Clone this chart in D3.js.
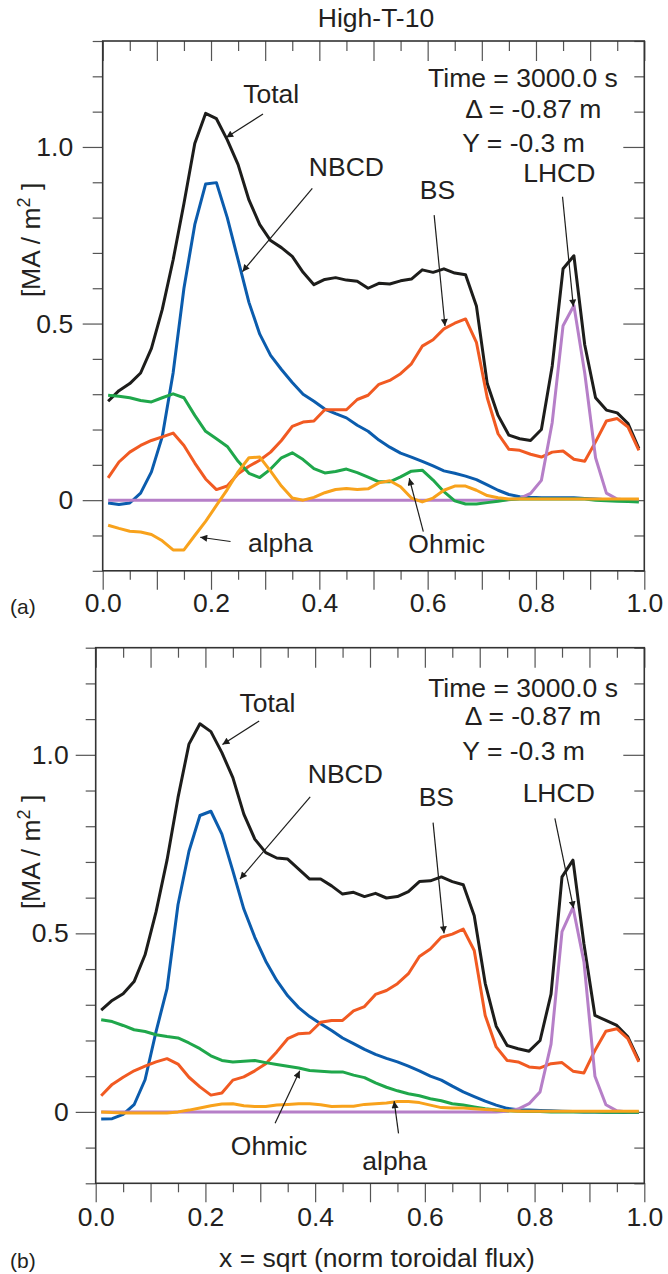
<!DOCTYPE html>
<html>
<head>
<meta charset="utf-8">
<script src="https://cdn.jsdelivr.net/npm/d3@7"></script>
<style>
body { margin: 0; background: #fff; }
svg { display: block; }
text { font-family: "Liberation Sans", Arial, Helvetica, sans-serif; fill: #231f20; }
</style>
</head>
<body>
<div id="chart"></div>
<script>
// sample positions (sqrt of normalised toroidal flux)
var xs = [0.01,0.03,0.05,0.07,0.09,0.11,0.13,0.15,0.17,0.19,
          0.21,0.23,0.25,0.27,0.29,0.31,0.33,0.35,0.37,0.39,
          0.41,0.43,0.45,0.47,0.49,0.51,0.53,0.55,0.57,0.59,
          0.61,0.63,0.65,0.67,0.69,0.71,0.73,0.75,0.77,0.79,
          0.81,0.83,0.85,0.87,0.89,0.91,0.93,0.95,0.97,0.99];

// panel (a) current densities [MA/m2]
var totalA = [0.28,0.31,0.33,0.36,0.43,0.54,0.68,0.84,1.01,1.095,
              1.08,1.02,0.95,0.85,0.78,0.735,0.715,0.69,0.645,0.61,
              0.625,0.63,0.623,0.62,0.60,0.614,0.612,0.621,0.626,0.652,
              0.645,0.655,0.643,0.638,0.55,0.33,0.24,0.184,0.174,0.169,
              0.20,0.38,0.655,0.692,0.44,0.29,0.255,0.247,0.217,0.146];
var nbcdA = [-0.008,-0.012,-0.008,0.02,0.08,0.18,0.36,0.60,0.78,0.895,
             0.899,0.80,0.68,0.56,0.47,0.41,0.37,0.333,0.30,0.28,
             0.258,0.245,0.233,0.212,0.195,0.17,0.15,0.133,0.122,0.11,
             0.097,0.083,0.076,0.068,0.058,0.043,0.028,0.016,0.010,0.008,
             0.007,0.007,0.007,0.007,0.005,0.003,0.001,0,0,0];
var bsA = [0.063,0.108,0.136,0.155,0.169,0.179,0.19,0.155,0.105,0.06,
           0.03,0.04,0.075,0.096,0.113,0.136,0.169,0.209,0.221,0.224,
           0.256,0.256,0.256,0.285,0.297,0.328,0.339,0.358,0.386,0.436,
           0.454,0.485,0.501,0.513,0.447,0.29,0.188,0.144,0.141,0.13,
           0.122,0.136,0.139,0.116,0.11,0.165,0.224,0.231,0.207,0.141];
var ohmicA = [0.297,0.294,0.29,0.282,0.278,0.29,0.301,0.29,0.24,0.195,
              0.174,0.152,0.11,0.076,0.064,0.088,0.12,0.134,0.115,0.089,
              0.077,0.081,0.088,0.078,0.065,0.052,0.052,0.066,0.082,0.085,
              0.057,0.024,-0.002,-0.011,-0.011,-0.007,-0.003,0.002,0.003,0.003,
              0.003,0.003,0.003,0.003,0.003,0.0,-0.002,-0.003,-0.004,-0.005];
var alphaA = [-0.071,-0.08,-0.088,-0.09,-0.097,-0.115,-0.141,-0.141,-0.1,-0.06,
              -0.015,0.03,0.08,0.12,0.122,0.082,0.04,0.006,0.0,0.008,
              0.021,0.03,0.033,0.03,0.032,0.049,0.055,0.038,0.006,-0.005,
              0.006,0.028,0.04,0.04,0.028,0.013,0.007,0.003,0.003,0.003,
              0.003,0.003,0.003,0.003,0.003,0.003,0.003,0.003,0.003,0.003];
var lhcdA = [0,0,0,0,0,0,0,0,0,0,
             0,0,0,0,0,0,0,0,0,0,
             0,0,0,0,0,0,0,0,0,0,
             0,0,0,0,0,0,0,0.001,0.005,0.019,
             0.056,0.22,0.494,0.551,0.36,0.12,0.02,0.003,0,0];

// panel (b)
var totalB = [0.285,0.312,0.331,0.365,0.44,0.56,0.705,0.88,1.03,1.087,
              1.065,1.006,0.936,0.834,0.764,0.726,0.711,0.708,0.68,0.652,
              0.652,0.633,0.61,0.615,0.603,0.612,0.599,0.603,0.617,0.645,
              0.647,0.658,0.645,0.636,0.549,0.36,0.24,0.186,0.177,0.17,
              0.2,0.33,0.658,0.705,0.47,0.27,0.256,0.242,0.21,0.144];
var nbcdB = [-0.02,-0.019,-0.007,0.02,0.09,0.225,0.345,0.58,0.73,0.83,
             0.842,0.778,0.675,0.568,0.489,0.422,0.368,0.325,0.292,0.267,
             0.247,0.228,0.207,0.191,0.175,0.161,0.15,0.14,0.128,0.115,
             0.1,0.089,0.072,0.056,0.043,0.03,0.019,0.01,0.006,0.005,
             0.004,0.003,0.002,0.001,0,0,-0.001,-0.001,-0.002,-0.002];
var bsB = [0.045,0.077,0.097,0.115,0.128,0.14,0.149,0.134,0.097,0.07,
           0.047,0.053,0.089,0.098,0.115,0.135,0.168,0.205,0.219,0.221,
           0.251,0.256,0.256,0.283,0.295,0.329,0.34,0.359,0.387,0.435,
           0.456,0.489,0.498,0.512,0.452,0.27,0.182,0.144,0.14,0.126,
           0.123,0.135,0.138,0.114,0.109,0.172,0.226,0.233,0.205,0.14];
var ohmicB = [0.258,0.253,0.242,0.23,0.225,0.216,0.211,0.207,0.193,0.177,
              0.157,0.144,0.14,0.142,0.144,0.138,0.133,0.128,0.123,0.116,
              0.114,0.112,0.112,0.103,0.096,0.081,0.069,0.059,0.051,0.045,
              0.037,0.031,0.023,0.019,0.014,0.009,0.005,0.003,0.002,0.001,
              0.001,0,0,0,0,0,-0.001,-0.001,-0.001,-0.001];
var alphaB = [0,-0.002,-0.003,-0.003,-0.003,-0.003,-0.003,0,0.005,0.011,
              0.017,0.022,0.023,0.017,0.015,0.015,0.019,0.021,0.023,0.023,
              0.02,0.015,0.016,0.016,0.021,0.023,0.025,0.029,0.029,0.026,
              0.019,0.012,0.011,0.011,0.009,0.007,0.005,0.003,0.002,0.002,
              0.002,0.002,0.002,0.002,0.002,0.002,0.002,0.002,0.002,0.002];
var lhcdB = [0,0,0,0,0,0,0,0,0,0,
             0,0,0,0,0,0,0,0,0,0,
             0,0,0,0,0,0,0,0,0,0,
             0,0,0,0,0,0,0,0.002,0.008,0.023,
             0.056,0.19,0.505,0.573,0.42,0.1,0.02,0.003,0,0];

// ticks
var xMajor = [0, 0.2, 0.4, 0.6, 0.8, 1.0];
var xMid = [0.1, 0.3, 0.5, 0.7, 0.9];
var xMinor = [0.05, 0.15, 0.25, 0.35, 0.45, 0.55, 0.65, 0.75, 0.85, 0.95];
var yMajor = [0, 0.5, 1.0];
var yMajorLabels = ["0", "0.5", "1.0"];
var yMinor = [-0.2, -0.1, 0.1, 0.2, 0.3, 0.4, 0.6, 0.7, 0.8, 0.9, 1.1, 1.2, 1.3];

var colors = {
  total: "#1d1d1b", nbcd: "#0b5cad", bs: "#f15a22",
  lhcd: "#b67fc8", ohmic: "#1fa74b", alpha: "#f8a21c"
};

var W = 668, H = 1274;
var svg = d3.select("#chart").append("svg")
  .attr("width", W)
  .attr("height", H);

svg.append("defs").append("marker")
  .attr("id", "head")
  .attr("viewBox", "0 0 10 10")
  .attr("refX", 10).attr("refY", 5)
  .attr("markerWidth", 9).attr("markerHeight", 7)
  .attr("markerUnits", "userSpaceOnUse")
  .attr("orient", "auto")
  .append("path")
  .attr("d", "M0,0L10,5L0,10Z")
  .attr("fill", "#1d1d1b");

svg.append("text")
  .attr("x", 376).attr("y", 27)
  .attr("text-anchor", "middle")
  .attr("font-size", 26.5)
  .text("High-T-10");

function drawPanel(p) {
  var x = d3.scaleLinear().domain([0, 1]).range([p.left, p.right]);
  var y = d3.scaleLinear().domain([-0.2, 1.3]).range([p.bottom, p.top]);
  var g = svg.append("g");

  // ticks on all four sides
  function tickAxis(axis, tf, vals, size, labels) {
    var a = g.append("g").attr("transform", tf)
      .call(axis.tickValues(vals).tickSize(size).tickSizeOuter(0)
        .tickFormat(labels ? labels : ""));
    a.select(".domain").remove();
    a.selectAll(".tick line").attr("stroke", "#555").attr("stroke-width", 1.2);
    return a;
  }
  tickAxis(d3.axisLeft(y), "translate(" + p.left + ",0)", yMinor, 10);
  var yl = tickAxis(d3.axisLeft(y), "translate(" + p.left + ",0)", yMajor, 20,
    function(d, i) { return yMajorLabels[i]; });
  yl.call(function(a) { a.selectAll(".tick text").attr("x", -20 - p.yPad); });
  tickAxis(d3.axisLeft(y), "translate(" + p.right + ",0)", yMinor, 10);
  tickAxis(d3.axisLeft(y), "translate(" + p.right + ",0)", yMajor, 21);

  tickAxis(d3.axisBottom(x), "translate(0," + p.top + ")", xMinor, 10);
  tickAxis(d3.axisBottom(x), "translate(0," + p.top + ")", xMajor.concat(xMid), 20);
  tickAxis(d3.axisBottom(x), "translate(0," + p.bottom + ")", xMinor, 9);
  tickAxis(d3.axisBottom(x), "translate(0," + p.bottom + ")", xMid, 19);
  var xl = tickAxis(d3.axisBottom(x), "translate(0," + p.bottom + ")", xMajor, 19,
    d3.format(".1f"));
  xl.selectAll(".tick text").attr("y", 19 + p.xPad);

  g.selectAll(".tick text")
    .attr("font-size", 26.5)
    .attr("font-family", "'Liberation Sans', Arial, sans-serif")
    .attr("fill", "#231f20");

  // frame
  g.append("rect")
    .attr("x", p.left).attr("y", p.top)
    .attr("width", p.right - p.left).attr("height", p.bottom - p.top)
    .attr("fill", "none").attr("stroke", "#333").attr("stroke-width", 1.6);

  // curves
  var line = d3.line()
    .x(function(d) { return x(d[0]); })
    .y(function(d) { return y(d[1]); });
  p.series.forEach(function(s) {
    g.append("path")
      .datum(xs.map(function(v, i) { return [v, s.values[i]]; }))
      .attr("d", line)
      .attr("fill", "none")
      .attr("stroke", s.color)
      .attr("stroke-width", 3)
      .attr("stroke-linejoin", "round");
  });

  // arrows and labels
  p.arrows.forEach(function(a) {
    g.append("line")
      .attr("x1", x(a[0])).attr("y1", y(a[1]))
      .attr("x2", x(a[2])).attr("y2", y(a[3]))
      .attr("stroke", "#1d1d1b").attr("stroke-width", 1.2)
      .attr("marker-end", "url(#head)");
  });
  p.notes.forEach(function(n) {
    g.append("text")
      .attr("x", x(n.x)).attr("y", y(n.y))
      .attr("dy", "0.36em")
      .attr("text-anchor", "middle")
      .attr("font-size", 26.5)
      .text(n.t);
  });

  // y label
  var t = g.append("text")
    .attr("transform", "translate(" + p.yLabelX + "," + p.yLabelY + ") rotate(-90)")
    .attr("text-anchor", "middle")
    .attr("font-size", 26.5);
  t.append("tspan").text("[MA / m");
  t.append("tspan").attr("dy", -10).attr("font-size", 18).text("2");
  t.append("tspan").attr("dy", 10).text(" ]");

  g.append("text")
    .attr("x", 10).attr("y", p.tagY)
    .attr("font-size", 21)
    .text(p.tag);
}

drawPanel({
  left: 102.7, right: 644.3, top: 41, bottom: 570.8,
  yPad: 9.5, xPad: 3.5, yLabelX: 40, yLabelY: 240, tag: "(a)", tagY: 614,
  series: [
    { values: totalA, color: colors.total },
    { values: nbcdA, color: colors.nbcd },
    { values: bsA, color: colors.bs },
    { values: lhcdA, color: colors.lhcd },
    { values: ohmicA, color: colors.ohmic },
    { values: alphaA, color: colors.alpha }
  ],
  arrows: [
    [0.296, 1.093, 0.228, 1.027],
    [0.387, 0.883, 0.258, 0.647],
    [0.612, 0.807, 0.632, 0.493],
    [0.849, 0.859, 0.869, 0.548],
    [0.236, -0.117, 0.18, -0.105],
    [0.592, -0.089, 0.566, 0.062]
  ],
  notes: [
    { t: "Total", x: 0.311, y: 1.152 },
    { t: "NBCD", x: 0.45, y: 0.946 },
    { t: "BS", x: 0.618, y: 0.881 },
    { t: "LHCD", x: 0.843, y: 0.929 },
    { t: "alpha", x: 0.328, y: -0.121 },
    { t: "Ohmic", x: 0.635, y: -0.124 },
    { t: "Time = 3000.0 s", x: 0.776, y: 1.197 },
    { t: "\u0394 = -0.87 m", x: 0.795, y: 1.11 },
    { t: "Y = -0.3 m", x: 0.777, y: 1.012 }
  ]
});

drawPanel({
  left: 95.7, right: 644.3, top: 647.7, bottom: 1183.3,
  yPad: 7, xPad: 5, yLabelX: 40, yLabelY: 852, tag: "(b)", tagY: 1268,
  series: [
    { values: totalB, color: colors.total },
    { values: nbcdB, color: colors.nbcd },
    { values: bsB, color: colors.bs },
    { values: lhcdB, color: colors.lhcd },
    { values: ohmicB, color: colors.ohmic },
    { values: alphaB, color: colors.alpha }
  ],
  arrows: [
    [0.298, 1.095, 0.231, 1.029],
    [0.391, 0.882, 0.263, 0.652],
    [0.615, 0.81, 0.635, 0.5],
    [0.837, 0.822, 0.871, 0.57],
    [0.327, -0.032, 0.372, 0.115],
    [0.552, -0.06, 0.544, 0.03]
  ],
  notes: [
    { t: "Total", x: 0.313, y: 1.147 },
    { t: "NBCD", x: 0.455, y: 0.948 },
    { t: "BS", x: 0.621, y: 0.884 },
    { t: "LHCD", x: 0.844, y: 0.895 },
    { t: "Ohmic", x: 0.316, y: -0.093 },
    { t: "alpha", x: 0.545, y: -0.135 },
    { t: "Time = 3000.0 s", x: 0.779, y: 1.19 },
    { t: "\u0394 = -0.87 m", x: 0.797, y: 1.109 },
    { t: "Y = -0.3 m", x: 0.78, y: 1.011 }
  ]
});

svg.append("text")
  .attr("x", 377).attr("y", 1267)
  .attr("text-anchor", "middle")
  .attr("font-size", 26.5)
  .text("x = sqrt (norm toroidal flux)");
</script>
</body>
</html>
